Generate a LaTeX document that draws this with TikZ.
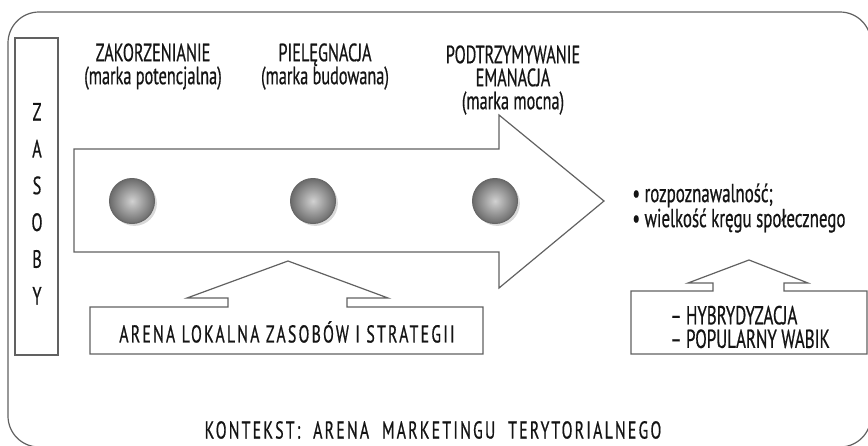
\documentclass[tikz,border=0pt]{standalone}
\usepackage{fontspec}
\setmainfont{PT Sans}[FakeStretch=0.65, FakeBold=0.6]
\usetikzlibrary{shadows}

\begin{document}
\begin{tikzpicture}[x=0.5pt, y=-0.5pt, line join=miter,
    every node/.style={inner sep=0pt, text=black!92, font=\fontsize{12.5}{11}\selectfont},
    frameline/.style={draw=black!62, line width=0.6pt},
    phase/.style={align=center, anchor=north, font=\fontsize{12.5}{11.5}\selectfont},
    stage/.style={circle, minimum size=22.5pt, draw=black!60, line width=0.5pt, shading=radial,
        inner color=black!18, outer color=black!58,
        drop shadow={shadow xshift=1.2pt, shadow yshift=-1.2pt, opacity=0.3}},
    spaced/.style={font=\fontsize{12.2}{12.2}\selectfont\addfontfeatures{LetterSpace=9}}]
    \useasboundingbox (0,0) rectangle (868,445);
    % outer frame (context)
    \draw[frameline, rounded corners=15.5pt] (8,12) rectangle (871,447);
    % resources column
    \draw[frameline] (15,38) rectangle (58,355);
    \foreach \l [count=\i] in {Z,A,S,O,B,Y}
        \node (res\i) at (37,75+36.8*\i) {\l};
    % big arrow with the three stages
    \draw[frameline] (74,149) -- (499,149) -- (499,115) -- (604,201) -- (499,288) -- (499,252) -- (74,252) -- cycle;
    \node[stage] (s1) at (132,201) {};
    \node[stage] (s2) at (313,201) {};
    \node[stage] (s3) at (495,201) {};
    \node[phase] (p1) at (153,43) {ZAKORZENIANIE\\(marka potencjalna)};
    \node[phase] (p2) at (325,43) {PIELĘGNACJA\\(marka budowana)};
    \node[phase] (p3) at (513,45) {PODTRZYMYWANIE\\EMANACJA\\(marka mocna)};
    % effects
    \node[align=left, anchor=west, font=\fontsize{13}{12.5}\selectfont] (eff) at (632,208)
        {• rozpoznawalność;\\• wielkość kręgu społecznego};
    % local arena
    \draw[frameline] (90,307) -- (228,307) -- (228,298) -- (187,298) -- (288,261) -- (388,298) -- (347,298)
        -- (347,307) -- (483,307) -- (483,354) -- (90,354) -- cycle;
    \node[spaced] (arena) at (287,332) {ARENA LOKALNA ZASOBÓW I STRATEGII};
    % hybrid box
    \draw[frameline] (631,291) -- (713,291) -- (713,283) -- (688,283) -- (749,260) -- (808,283) -- (784,283)
        -- (784,291) -- (867,291) -- (867,354) -- (631,354) -- cycle;
    \node[align=left, anchor=west, font=\fontsize{13}{11.8}\selectfont] (hyb) at (670,327) {– HYBRYDYZACJA\\– POPULARNY WABIK};
    \node[spaced] (ctx) at (433,430) {KONTEKST:\ \ ARENA\ \ MARKETINGU\ \ TERYTORIALNEGO};
\end{tikzpicture}
\end{document}
